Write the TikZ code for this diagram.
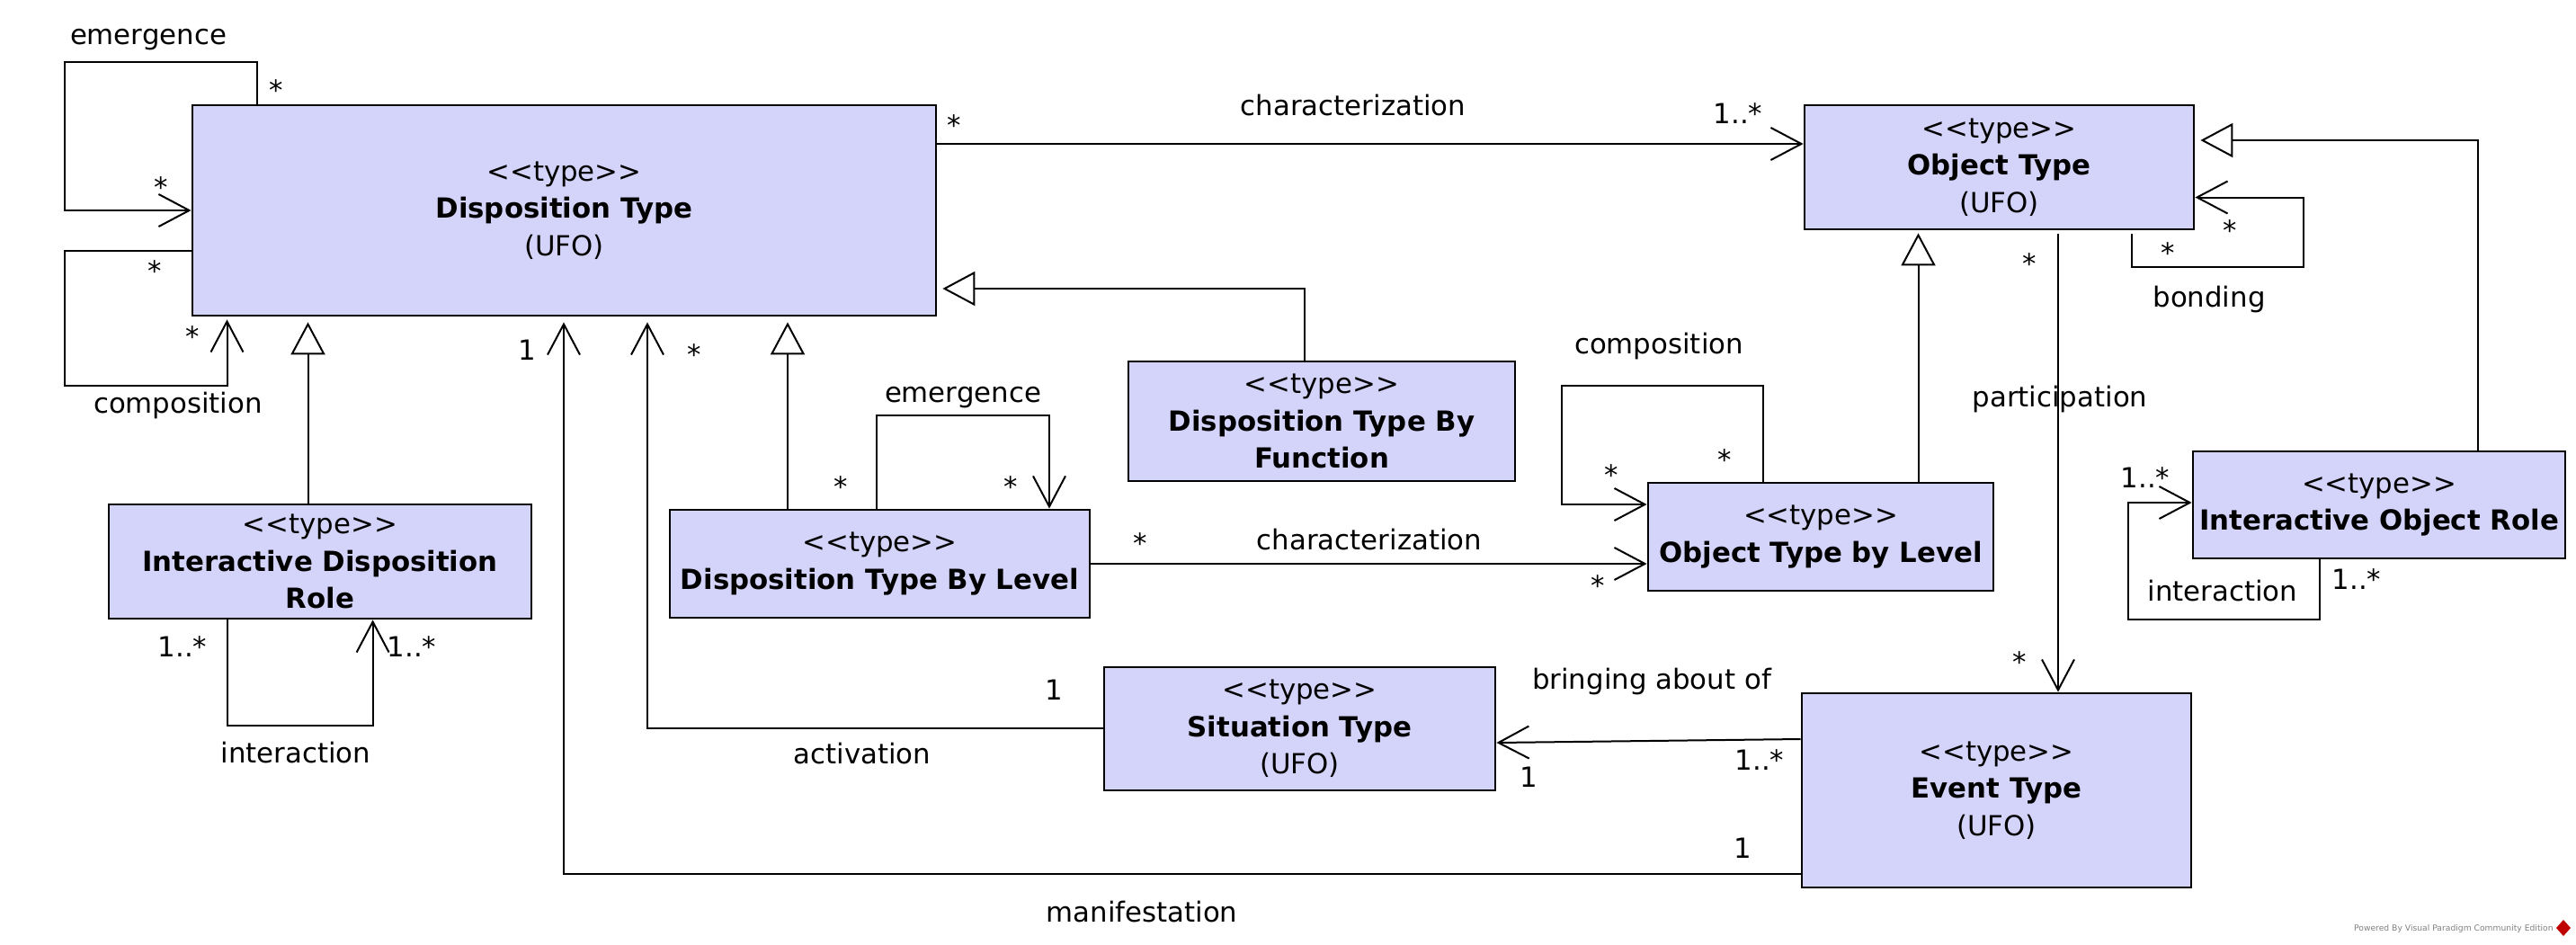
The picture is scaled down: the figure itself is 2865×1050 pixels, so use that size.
\documentclass[tikz,border=0pt]{standalone}
\usepackage{fontspec}
\setmainfont{DejaVu Sans}
\usetikzlibrary{arrows.meta,calc}
\definecolor{boxfill}{RGB}{212,212,250}
\newcommand\stereo{<\kern0pt<type>\kern0pt>}
\begin{document}
\begin{tikzpicture}[x=0.5pt,y=-0.5pt,
  font=\fontsize{15.4}{20.7}\selectfont,
  umlbox/.style={draw,line width=1.4pt,fill=boxfill,align=center,inner sep=0pt},
  assoc/.style={line width=1pt,-{Straight Barb[length=17pt,width=18pt,line width=1pt]}},
  gen/.style={line width=1pt,-{Triangle[open,length=18pt,width=19pt,line width=1pt]}},
  lbl/.style={inner sep=0pt,text height=11pt,text depth=3.5pt},
]
\useasboundingbox (0,0) rectangle (2865,1050);

% classes
\node[umlbox,minimum width=413.5pt,minimum height=117pt] (DT) at (627.5,234) {\stereo\\\textbf{Disposition Type}\\(UFO)};
\node[umlbox,minimum width=216.5pt,minimum height=69pt] (OT) at (2223.5,186) {\stereo\\\textbf{Object Type}\\(UFO)};
\node[umlbox,minimum width=215pt,minimum height=66.5pt] (DTBF) at (1470,468.5) {\stereo\\\textbf{Disposition Type By}\\\textbf{Function}};
\node[umlbox,minimum width=235pt,minimum height=63.5pt] (IDR) at (356,624.5) {\stereo\\\textbf{Interactive Disposition}\\\textbf{Role}};
\node[umlbox,minimum width=233.5pt,minimum height=60pt] (DTbL) at (978.5,627) {\stereo\\\textbf{Disposition Type By Level}};
\node[umlbox,minimum width=192pt,minimum height=60pt] (OTbL) at (2025,597) {\stereo\\\textbf{Object Type by Level}};
\node[umlbox,minimum width=207pt,minimum height=59.5pt] (IOR) at (2646,561.5) {\stereo\\\textbf{Interactive Object Role}};
\node[umlbox,minimum width=217.5pt,minimum height=68.5pt] (ST) at (1445.5,810.5) {\stereo\\\textbf{Situation Type}\\(UFO)};
\node[umlbox,minimum width=216.5pt,minimum height=108pt] (ET) at (2220.5,879) {\stereo\\\textbf{Event Type}\\(UFO)};

% connectors
\draw[assoc] (DT.north -| 285.5,0) -- (285.5,69) -- (72,69) -- (72,234) -- (DT.west);
\draw[assoc,shorten >=1.5pt] (DT.west |- 0,279) -- (72,279) -- (72,429) -- (252.5,429) -- (DT.south -| 252.5,0);
\draw[gen,shorten >=3pt] (IDR.north -| 342.5,0) -- (DT.south -| 342.5,0);
\draw[assoc,shorten >=3pt] (ET.west |- 0,972) -- (627,972) -- (DT.south -| 627,0);
\draw[assoc,shorten >=3pt] (ST.west |- 0,810) -- (720,810) -- (DT.south -| 720,0);
\draw[gen,shorten >=3pt] (DTbL.north -| 876,0) -- (DT.south -| 876,0);
\draw[gen,shorten >=3pt] (DTBF.north -| 1451,0) -- (1451,321) -- (DT.east |- 0,321);
\draw[assoc] (DT.east |- 0,160) -- (OT.west |- 0,160);
\draw[assoc] (DTbL.north -| 975,0) -- (975,462) -- (1167,462) -- (DTbL.north -| 1167,0);
\draw[assoc] (DTbL.east |- 0,627) -- (OTbL.west |- 0,627);
\draw[assoc] (OTbL.north -| 1961,0) -- (1961,429) -- (1737,429) -- (1737,561) -- (OTbL.west |- 0,561);
\draw[gen,shorten >=1.5pt] (OTbL.north -| 2133.5,0) -- (OT.south -| 2133.5,0);
\draw[assoc,shorten <=2pt] (OT.south -| 2371,0) -- (2371,297) -- (2562,297) -- (2562,219.5) -- (OT.east |- 0,219.5);
\draw[assoc,shorten <=2pt] (OT.south -| 2289,0) -- (ET.north -| 2289,0);
\draw[gen,shorten >=3pt] (IOR.north -| 2756,0) -- (2756,156) -- (OT.east |- 0,156);
\draw[assoc] (IOR.south -| 2580,0) -- (2580,689) -- (2367,689) -- (2367,559) -- (IOR.west |- 0,559);
\draw[assoc] (IDR.south -| 253,0) -- (253,807) -- (414.6,807) -- (IDR.south -| 414.6,0);
\draw[assoc] (ET.west |- 0,822) -- (ST.east |- 0,826);

% labels
\node[lbl] (l1) at (165,42) {emergence};
\node[lbl] (l2) at (307,104) {*};
\node[lbl] (l3) at (179,212) {*};
\node[lbl] (l4) at (172,305) {*};
\node[lbl] (l5) at (214,378) {*};
\node[lbl] (l6) at (198,452) {composition};
\node[lbl] (l7) at (1061,143) {*};
\node[lbl] (l8) at (1933,130) {1..*};
\node[lbl] (l9) at (1505,121) {characterization};
\node[lbl] (l10) at (586,393) {1};
\node[lbl] (l11) at (772,398) {*};
\node[lbl] (l12) at (1071,440) {emergence};
\node[lbl] (l13) at (935,545) {*};
\node[lbl] (l14) at (1124,545) {*};
\node[lbl] (l15) at (1268,608) {*};
\node[lbl] (l16) at (1777,655) {*};
\node[lbl] (l17) at (1523,604) {characterization};
\node[lbl] (l18) at (1845,386) {composition};
\node[lbl] (l19) at (1792,532) {*};
\node[lbl] (l20) at (1918,515) {*};
\node[lbl] (l21) at (2480,260) {*};
\node[lbl] (l22) at (2411,285) {*};
\node[lbl] (l23) at (2457,334) {bonding};
\node[lbl] (l24) at (2257,297) {*};
\node[lbl] (l25) at (2291,445) {participation};
\node[lbl] (l26) at (2246,740) {*};
\node[lbl] (l27) at (2386,535) {1..*};
\node[lbl] (l28) at (2621,648) {1..*};
\node[lbl] (l29) at (2472,661) {interaction};
\node[lbl] (l30) at (203,723) {1..*};
\node[lbl] (l31) at (458,723) {1..*};
\node[lbl] (l32) at (329,841) {interaction};
\node[lbl] (l33) at (1172,771) {1};
\node[lbl] (l34) at (959,842) {activation};
\node[lbl] (l35) at (1700,868) {1};
\node[lbl] (l36) at (1957,849) {1..*};
\node[lbl] (l37) at (1837,759) {bringing about of};
\node[lbl] (l38) at (1938,947) {1};
\node[lbl] (l39) at (1270,1018) {manifestation};

% watermark
\node[anchor=east,inner sep=0pt,text=black!50,font=\fontsize{4.6}{5}\selectfont] (wm) at (2840,1033) {Powered By Visual Paradigm Community Edition};
\fill[red!75!black] (2851,1023) -- (2859,1032) -- (2851,1041) -- (2843,1032) -- cycle;
\end{tikzpicture}
\end{document}
